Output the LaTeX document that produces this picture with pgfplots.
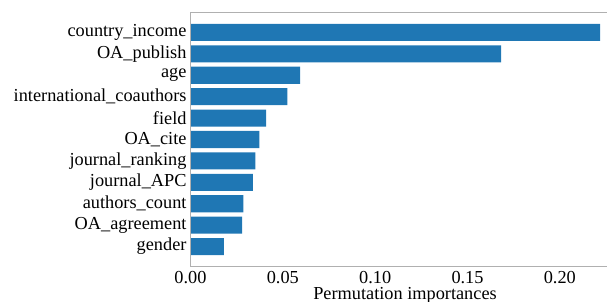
\documentclass[border=0pt]{standalone}
\usepackage{pgfplots}
\pgfplotsset{compat=1.18}
\usepackage{pgfplotstable}
\usepackage{fontspec}
\setmainfont{Liberation Serif}
\definecolor{barblue}{HTML}{1F77B4}
\definecolor{spine}{HTML}{B0B0B0}
\pgfplotstableread{
y val
10 0.2218
9 0.1682
8 0.0593
7 0.0524
6 0.0409
5 0.0373
4 0.0351
3 0.0338
2 0.0286
1 0.0279
0 0.0181
}\imp
\begin{document}
\begin{tikzpicture}
\useasboundingbox (0pt,0pt) rectangle (607pt,302pt);
\clip (0pt,0pt) rectangle (607pt,302pt);
\begin{axis}[
  at={(190.5pt,35.3pt)}, anchor=south west,
  scale only axis, width=429pt, height=254.4pt,
  xbar, bar width=0.8,
  xmin=0, xmax=0.2323,
  ymin=-0.94, ymax=10.94,
  ytick={0,...,10},
  yticklabels={gender,OA\_agreement,authors\_count,journal\_APC,journal\_ranking,OA\_cite,field,international\_coauthors,age,OA\_publish,country\_income},
  xtick={0,0.05,0.1,0.15,0.2},
  xticklabels={0.00,0.05,0.10,0.15,0.20},
  /pgf/number format/assume math mode=true,
  major tick length=0pt,
  tick label style={font=\rmfamily\fontsize{18.3}{18.3}\selectfont},
  yticklabel style={anchor=east, inner sep=0pt, xshift=-3.8pt},
  xticklabel style={anchor=north, inner sep=0pt, yshift=-4pt},
  xlabel={Permutation importances},
  xlabel style={font=\rmfamily\fontsize{18.3}{18.3}\selectfont, at={(rel axis cs:0.5,0)}, anchor=north, inner sep=0pt, yshift=-20.5pt},
  axis line style={draw=none},
  clip=false,
]
\addplot[fill=barblue, draw=none] table[x=val, y=y] {\imp};
\draw[spine, line width=0.8pt] (rel axis cs:0,1) -- (rel axis cs:0,0) -- (rel axis cs:1,0);
\draw[spine, line width=0.8pt] (rel axis cs:0,1) -- (rel axis cs:1,1);
\end{axis}
\end{tikzpicture}
\end{document}
